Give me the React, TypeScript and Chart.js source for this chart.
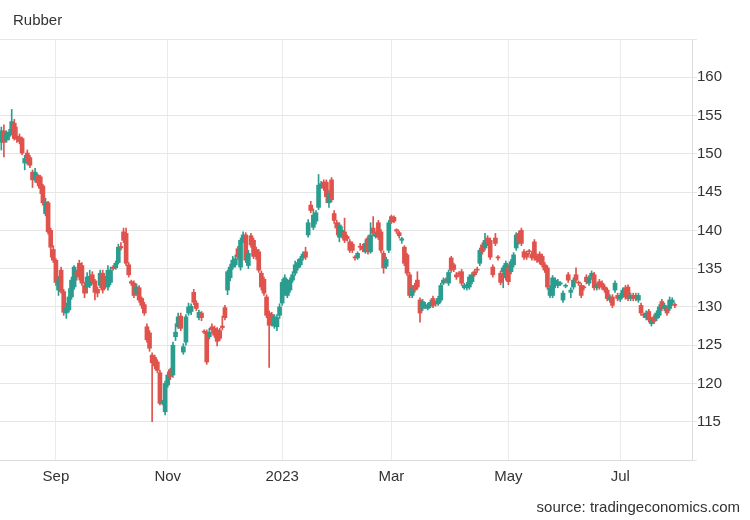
import React, { useEffect, useRef } from "react";
import { Chart, registerables } from "chart.js";

Chart.register(...registerables);

// trading-day index of the first candle (Aug 3, 2022); candles are consecutive trading days
const firstIndex = 2;

const open = [
  151.5,153.0,151.8,152.3,152.8,154.0,152.3,152.2,152.0,148.8,
  150.1,149.5,147.6,146.6,147.2,147.0,145.8,142.2,143.6,140.0,
  137.5,136.1,132.2,134.8,132.0,129.2,129.6,131.3,132.6,134.5,
  135.7,135.4,132.8,132.6,132.8,134.2,133.4,132.3,132.8,134.4,
  133.4,132.6,133.2,135.2,135.1,135.8,137.9,139.8,139.6,135.5,
  133.3,133.1,131.8,132.5,131.1,130.3,127.4,126.6,123.7,123.4,
  122.8,121.4,117.4,116.3,119.8,121.8,121.1,126.1,127.4,128.8,
  124.1,125.4,129.2,129.4,131.9,130.5,128.6,129.2,126.8,126.7,
  126.1,127.4,127.2,127.0,126.9,127.5,129.9,132.2,133.8,135.2,
  135.5,137.6,135.2,138.7,139.4,135.4,139.3,138.7,137.5,137.2,
  134.4,133.6,131.3,129.2,129.0,127.5,127.4,128.9,130.5,131.8,
  131.5,132.2,133.5,134.4,135.1,135.5,136.4,137.2,139.4,143.3,
  140.4,141.2,143.0,145.8,146.3,146.3,143.6,146.6,142.2,141.0,
  139.1,139.3,139.8,139.2,138.5,138.2,136.5,136.4,137.9,137.9,
  137.2,139.0,137.2,140.3,139.2,141.0,139.8,137.0,135.3,137.4,
  141.8,141.7,140.1,139.7,138.7,137.8,136.8,134.2,131.5,132.8,
  133.5,130.9,129.8,130.0,129.8,130.1,131.1,130.5,130.4,130.9,
  133.1,133.6,133.1,136.4,135.5,134.2,134.4,134.6,132.5,132.5,
  132.6,133.3,134.6,134.9,135.7,138.1,137.7,139.0,138.7,135.2,
  139.0,136.5,134.4,134.6,133.8,135.2,134.6,135.5,137.7,139.6,
  140.0,137.2,137.0,137.3,136.9,138.5,136.6,136.9,136.6,135.5,
  135.1,131.5,131.5,132.8,132.8,133.0,130.9,132.7,134.2,131.9,
  132.6,134.2,133.2,132.8,132.6,133.9,133.1,133.9,134.2,132.5,
  133.3,133.1,132.6,132.2,130.9,131.3,132.2,131.5,131.0,131.5,
  132.5,132.6,131.1,131.5,131.5,130.9,130.2,129.0,128.6,129.4,
  127.8,128.7,128.5,128.9,130.7,129.8,129.8,129.8,130.5,130.3,
];

const high = [
  153.5,153.8,153.0,153.2,155.8,154.5,153.5,152.6,152.2,149.8,
  150.5,149.8,147.9,148.1,147.4,147.2,146.0,144.2,143.8,140.3,
  138.0,136.3,134.0,135.2,132.3,130.5,132.4,133.9,135.4,134.8,
  136.1,135.8,133.2,134.5,134.8,134.6,133.6,132.6,134.8,134.8,
  134.0,135.4,135.2,135.4,136.0,138.2,138.4,140.3,140.3,135.8,
  133.5,133.4,133.0,132.8,131.3,130.6,127.8,126.9,124.0,123.7,
  123.1,121.7,117.8,120.3,121.5,122.0,125.4,127.8,129.2,129.2,
  125.2,129.0,130.5,130.4,132.3,130.8,129.6,129.4,127.0,127.0,
  127.2,127.8,127.5,127.3,127.2,128.8,130.2,134.8,135.6,136.6,
  136.8,137.9,139.0,139.8,139.7,137.4,139.6,139.0,137.8,137.5,
  134.7,133.9,131.6,129.5,129.3,129.0,129.0,130.4,133.6,134.2,
  133.6,133.8,134.6,136.0,136.2,136.6,137.2,137.8,141.4,143.8,
  142.8,142.6,147.3,146.4,146.6,146.6,145.2,146.9,142.6,141.3,
  141.0,140.5,141.6,139.4,138.8,138.5,136.7,137.2,138.3,138.2,
  138.8,139.3,141.0,141.8,139.8,141.3,140.1,137.3,136.5,141.3,
  142.0,141.9,140.2,139.9,139.1,138.0,137.0,134.5,132.8,133.1,
  134.6,131.2,131.0,130.6,130.5,130.9,131.4,130.8,131.4,133.1,
  133.8,133.8,134.8,136.6,135.7,134.5,134.6,134.9,133.1,133.2,
  134.2,134.5,134.9,135.2,137.7,138.4,139.6,139.3,139.0,135.5,
  139.6,136.7,134.7,135.4,136.0,135.5,136.2,137.1,139.7,139.9,
  140.3,137.5,137.3,137.5,137.2,138.8,136.9,137.2,136.9,135.8,
  135.4,132.8,134.1,133.8,133.6,133.3,132.1,133.0,134.5,132.5,
  133.8,135.1,133.4,133.1,132.8,134.2,134.1,134.7,134.5,133.1,
  133.6,133.4,132.9,132.5,131.6,131.6,133.4,131.8,131.8,132.5,
  132.8,132.9,131.8,131.8,131.8,131.8,130.5,129.2,129.5,129.7,
  128.6,129.0,129.5,130.3,131.0,130.5,130.1,131.3,131.2,130.5,
];

const low = [
  150.5,149.6,151.5,151.8,152.5,151.8,151.5,151.3,149.9,147.9,
  148.6,148.2,145.6,146.3,145.8,144.8,143.3,141.9,139.5,136.5,
  135.8,132.8,131.5,131.8,128.9,128.5,129.3,131.0,132.3,133.5,
  133.5,132.8,131.2,131.8,132.5,133.0,130.9,131.3,132.5,131.8,
  132.4,132.2,132.9,134.8,134.9,135.6,137.4,138.4,135.4,133.9,
  132.8,131.2,131.5,130.6,129.8,128.9,125.4,124.2,115.0,121.9,
  121.4,117.2,117.2,115.9,119.5,120.5,120.8,125.6,127.2,126.9,
  123.8,125.0,128.9,129.0,130.3,129.5,128.3,128.2,126.5,122.5,
  125.8,126.6,126.0,124.9,125.6,127.0,128.3,131.6,133.4,134.9,
  135.2,136.2,134.8,138.4,135.8,135.0,137.8,136.3,136.2,134.5,
  132.2,131.5,128.6,122.1,127.5,127.2,126.9,128.5,130.2,131.5,
  131.2,131.9,133.2,134.1,134.8,135.2,136.1,136.2,139.1,142.3,
  140.1,140.8,142.7,145.5,145.2,143.6,143.0,143.7,140.9,139.4,
  138.5,139.0,138.4,138.6,137.1,137.1,136.1,136.2,137.4,137.2,
  137.0,136.9,137.0,139.3,139.0,138.8,137.1,134.4,135.0,137.1,
  140.9,141.0,139.6,139.0,138.3,135.4,134.1,131.2,131.2,131.9,
  132.3,128.0,129.5,129.8,129.6,129.9,129.9,130.1,130.2,130.6,
  132.9,133.2,132.8,134.5,134.6,133.6,134.0,132.8,132.3,132.2,
  132.3,133.0,134.0,134.5,135.4,136.9,137.4,138.0,136.2,133.9,
  138.0,136.1,132.9,132.5,133.5,132.9,134.3,135.2,137.4,138.2,
  138.0,136.2,136.2,136.9,136.1,136.1,135.8,135.6,135.2,134.5,
  132.3,131.2,131.2,132.5,132.5,132.8,130.6,132.5,133.2,131.2,
  132.3,133.2,132.8,131.2,132.2,133.0,132.8,133.6,132.2,132.2,
  132.3,132.3,131.9,130.8,130.6,129.9,131.9,130.8,130.7,131.2,
  131.0,130.8,130.8,130.8,130.8,130.6,128.9,128.6,128.3,128.0,
  127.5,127.8,128.2,128.6,129.5,129.5,128.9,129.5,130.2,129.9,
];

const close = [
  153.0,151.5,152.7,152.8,154.2,152.0,151.9,151.6,150.1,149.4,
  149.0,148.5,146.6,147.6,146.2,145.5,143.6,143.7,139.8,137.8,
  136.1,133.2,133.5,132.0,129.3,129.8,131.3,133.5,135.2,134.3,
  133.9,133.1,131.8,133.9,134.0,133.4,131.9,131.8,134.4,132.2,
  132.8,134.8,134.8,135.0,135.7,137.8,137.7,138.7,135.7,134.2,
  133.1,131.5,132.6,130.9,130.2,129.2,125.7,124.6,122.7,122.3,
  121.7,117.4,117.5,120.0,121.1,120.9,125.0,126.7,128.7,127.2,
  124.8,128.7,130.0,130.1,130.6,129.8,129.3,128.6,126.7,122.8,
  126.7,127.0,126.3,125.5,125.9,127.3,128.6,134.6,135.2,136.1,
  136.3,136.5,138.7,139.4,136.1,137.0,138.1,136.6,136.6,134.8,
  132.6,131.8,128.9,127.6,127.9,128.7,128.6,130.0,133.2,133.8,
  133.3,133.5,134.2,135.5,135.8,136.3,136.9,136.5,141.0,142.6,
  142.0,142.3,145.9,146.1,145.5,144.4,144.8,144.0,141.3,140.3,
  140.7,140.0,138.7,138.9,137.4,137.4,136.4,137.0,137.8,137.5,
  138.3,137.2,139.4,139.6,139.5,139.1,137.4,135.1,136.2,141.0,
  141.1,141.2,139.9,139.3,138.9,135.7,134.4,131.5,132.4,132.2,
  132.6,129.2,130.7,130.3,130.2,130.6,130.2,130.4,131.1,132.8,
  133.5,133.5,134.5,134.8,134.9,133.9,134.3,133.1,132.8,132.9,
  133.9,134.2,134.2,134.8,137.4,137.2,138.7,138.3,136.5,134.2,
  138.3,136.4,133.2,135.1,135.7,133.3,135.9,136.8,139.4,138.5,
  138.3,136.5,136.5,137.2,136.4,136.4,136.1,135.9,135.5,134.8,
  132.6,132.5,133.8,133.5,133.3,133.1,131.8,132.8,133.5,132.2,
  133.5,133.5,133.1,131.5,132.5,133.3,133.8,134.4,132.5,132.8,
  132.6,132.6,132.2,131.1,131.3,130.2,133.1,131.1,131.5,132.2,
  131.3,131.1,131.5,131.1,131.1,131.5,129.2,128.9,129.2,128.3,
  128.3,128.1,129.2,130.0,129.8,130.2,129.2,130.9,130.9,130.2,
];

// x-axis month labels and the trading-day index where each month starts
const monthLabels = ["Sep", "Nov", "2023", "Mar", "May", "Jul"];
const monthTickIndex = [23, 66, 110, 152, 197, 240];

const FONT = "'Liberation Sans', Arial, Helvetica, sans-serif";
const UP = "#2a9d8f";
const DOWN = "#e0524c";

export default function App() {
  const ref = useRef<HTMLCanvasElement>(null);

  useEffect(() => {
    const colors = close.map((c, k) => (c >= open[k] ? UP : DOWN));
    const xs = close.map((_, k) => firstIndex + k);
    const bodies = xs.map((x, k) => ({
      x,
      y: [Math.min(open[k], close[k]), Math.max(open[k], close[k])],
    }));
    const wicks = xs.map((x, k) => ({ x, y: [low[k], high[k]] }));

    const chart = new Chart(ref.current as HTMLCanvasElement, {
      type: "bar",
      data: {
        datasets: [
          {
            data: bodies as any,
            backgroundColor: colors,
            borderWidth: 0,
            barThickness: 4,
            minBarLength: 1,
            grouped: false,
            order: 0,
          } as any,
          {
            data: wicks as any,
            backgroundColor: colors,
            borderWidth: 0,
            barThickness: 1,
            grouped: false,
            order: 1,
          } as any,
        ],
      },
      options: {
        animation: false,
        responsive: false,
        maintainAspectRatio: false,
        layout: { padding: { top: 39, left: 0, right: 0, bottom: 0 } },
        plugins: { legend: { display: false }, tooltip: { enabled: false } },
        scales: {
          x: {
            type: "linear",
            min: 1.5,
            max: 267.6,
            offset: false,
            afterBuildTicks: (s: any) => {
              s.ticks = monthTickIndex.map((v) => ({ value: v }));
            },
            afterFit: (s: any) => {
              s.height = 60;
            },
            ticks: {
              autoSkip: false,
              maxRotation: 0,
              padding: 8,
              color: "#333",
              font: { family: FONT, size: 15 },
              callback: (_v: any, i: number) => monthLabels[i],
            },
            grid: { color: "#ebebeb", drawTicks: false, tickLength: 0, offset: false },
            border: { display: true, color: "#dcdcdc" },
          },
          y: {
            position: "right",
            min: 110,
            max: 165,
            afterFit: (s: any) => {
              s.width = 58;
            },
            ticks: {
              stepSize: 5,
              padding: 0,
              color: "#333",
              font: { family: FONT, size: 15 },
              callback: (v: any) => (v === 110 || v === 165 ? "" : String(v)),
            },
            grid: { color: "#e6e6e6", tickLength: 5, drawTicks: true },
            border: { display: true, color: "#dcdcdc" },
          },
        },
      },
    } as any);
    return () => chart.destroy();
  }, []);

  return (
    <div style={{ position: "absolute", left: 0, top: 0, width: 750, height: 520, background: "#fff" }}>
      <canvas ref={ref} width={750} height={520} style={{ width: 750, height: 520, display: "block" }} />
      <div
        style={{
          position: "absolute",
          left: 13,
          top: 11,
          fontFamily: FONT,
          fontSize: 15,
          color: "#333",
          lineHeight: "18px",
        }}
      >
        Rubber
      </div>
      <div
        style={{
          position: "absolute",
          right: 10,
          top: 498,
          fontFamily: FONT,
          fontSize: 15,
          color: "#333",
          lineHeight: "18px",
        }}
      >
        source: tradingeconomics.com
      </div>
    </div>
  );
}
